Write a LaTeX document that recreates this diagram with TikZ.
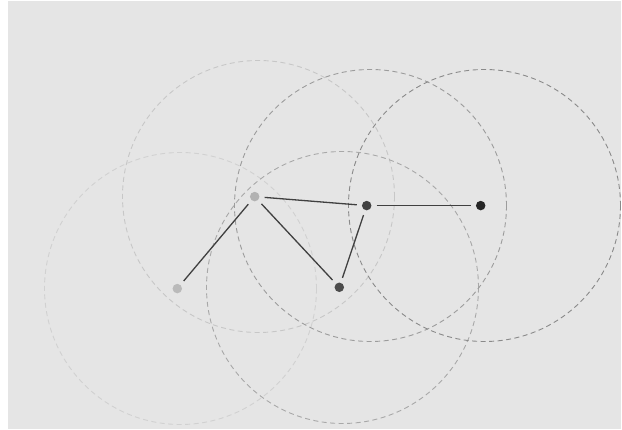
\documentclass[tikz,border=0pt]{standalone}
\begin{document}
\begin{tikzpicture}[x=1pt,y=-1pt,
  ring/.style={dashed,dash pattern=on 5pt off 3.5pt,line width=0.9pt},
  dot/.style={circle,inner sep=0pt,minimum size=9.5pt},
  link/.style={draw=black!75,line width=1.3pt,shorten >=5pt,shorten <=5pt}]
\useasboundingbox (0,0) rectangle (622,430);
\fill[white] (0,0) rectangle (622,430);
\fill[black!10] (8,1) rectangle (621,429);
\definecolor{cA}{gray}{0.82}
\definecolor{cB}{gray}{0.78}
\definecolor{cC}{gray}{0.66}
\definecolor{cD}{gray}{0.61}
\definecolor{cE}{gray}{0.54}
\draw[ring,cA] (180.5,288.5) circle (136);
\draw[ring,cB] (258.5,196.5) circle (136);
\draw[ring,cC] (342.5,287.5) circle (136);
\draw[ring,cD] (370.5,205.5) circle (136);
\draw[ring,cE] (484.5,205.5) circle (136);
\node[dot,fill=black!27] (a) at (177.3,288.6) {};
\node[dot,fill=black!30] (b) at (254.7,196.6) {};
\node[dot,fill=black!70] (c) at (339.3,287.3) {};
\node[dot,fill=black!74] (d) at (366.7,205.6) {};
\node[dot,fill=black!85] (e) at (480.7,205.6) {};
\draw[link] (a) -- (b);
\draw[link] (b) -- (c);
\draw[link] (b) -- (d);
\draw[link] (c) -- (d);
\draw[link] (d) -- (e);
\end{tikzpicture}
\end{document}
